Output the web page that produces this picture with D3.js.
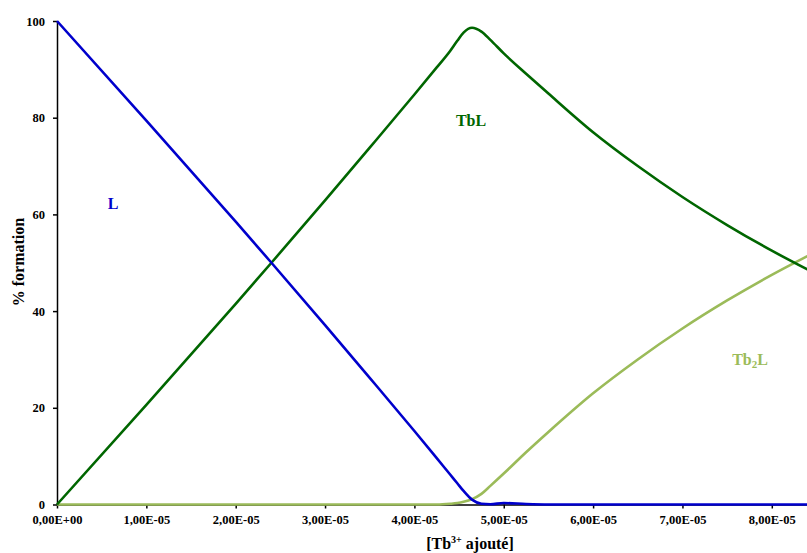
<!DOCTYPE html>
<html>
<head>
<meta charset="utf-8">
<script src="https://cdn.jsdelivr.net/npm/d3@7"></script>
<style>
  html, body { margin: 0; padding: 0; background: #fff; }
  svg { display: block; }
  text { font-family: "Liberation Serif", "Times New Roman", serif; font-weight: bold; }
</style>
</head>
<body>
<svg id="chart" width="807" height="553"></svg>
<script>
// ---- data (x in units of 1E-05 mol/L of Tb3+ added) ----
const concentration = [0, 1, 2, 2.4, 3, 3.5, 4, 4.25, 4.4, 4.48, 4.55, 4.645, 4.75, 4.85, 5.0, 5.25, 5.5, 6.0, 6.5, 7.0, 7.5, 8.0, 8.4];
const seriesL    = [100, 79.4, 58.5, 50, 37.1, 26.2, 15.2, 9.6, 6.2, 4.4, 2.8, 1.0, 0.15, 0.05, 0.3, 0.1, 0, 0, 0, 0, 0, 0, 0];
const seriesTbL  = [0, 20.6, 41.5, 50, 62.9, 73.8, 84.8, 90.4, 93.8, 95.9, 97.6, 98.6, 97.8, 96.1, 93.3, 89.1, 85, 77, 70, 63.6, 57.8, 52.5, 48.6];
const seriesTb2L = [0, 0, 0, 0, 0, 0, 0, 0, 0.15, 0.3, 0.55, 1.1, 2.2, 3.85, 6.4, 10.8, 15, 23, 30, 36.4, 42.2, 47.5, 51.4];
const xTicks = [0, 1, 2, 3, 4, 5, 6, 7, 8];
const xTickLabels = ["0,00E+00", "1,00E-05", "2,00E-05", "3,00E-05", "4,00E-05", "5,00E-05", "6,00E-05", "7,00E-05", "8,00E-05"];
const yTicks = [0, 20, 40, 60, 80, 100];
const seriesNames = ["L", "TbL", "Tb2L"];
const seriesColors = ["#0000CC", "#006600", "#9BBB59"];

const svg = d3.select("#chart");
const x = d3.scaleLinear().domain([0, 9.3]).range([57, 57 + 9.3 * 89.35]);
const y = d3.scaleLinear().domain([0, 100]).range([504.5, 21]);

// y axis
const yAxis = svg.append("g").attr("transform", "translate(57,0)")
  .call(d3.axisLeft(y).tickValues(yTicks).tickSize(4).tickPadding(8).tickSizeOuter(0));
yAxis.select(".domain").attr("stroke", "#000").attr("stroke-width", 1.5);
yAxis.selectAll(".tick line").attr("stroke", "#000").attr("stroke-width", 1.5);
yAxis.selectAll("text").attr("font-size", 12.5).attr("fill", "#000")
  .style("font-family", '"Liberation Serif", serif').style("font-weight", "bold");

// x axis
const xAxis = svg.append("g").attr("transform", "translate(0,504.5)")
  .call(d3.axisBottom(x).tickValues(xTicks).tickSize(4).tickSizeOuter(0)
    .tickFormat((d, i) => xTickLabels[i]));
xAxis.select(".domain").attr("stroke", "#000").attr("stroke-width", 1.5);
xAxis.selectAll(".tick line").attr("stroke", "#000").attr("stroke-width", 1.5);
xAxis.selectAll("text").attr("font-size", 12.5).attr("fill", "#000")
  .attr("y", 19.5).attr("dy", 0)
  .style("font-family", '"Liberation Serif", serif').style("font-weight", "bold");

// lines
const allSeries = [seriesL, seriesTbL, seriesTb2L];
const line = d3.line().x(d => x(d[0])).y(d => y(d[1])).curve(d3.curveMonotoneX);
const order = [2, 1, 0];
order.forEach(k => {
  svg.append("path")
    .datum(concentration.map((c, i) => [c, allSeries[k][i]]))
    .attr("fill", "none")
    .attr("stroke", seriesColors[k])
    .attr("stroke-width", 2.6)
    .attr("stroke-linejoin", "round")
    .attr("d", line);
});

// series labels
svg.append("text").attr("x", 113).attr("y", 209).attr("text-anchor", "middle")
  .attr("font-size", 16).attr("fill", seriesColors[0]).text("L");
svg.append("text").attr("x", 471).attr("y", 126).attr("text-anchor", "middle")
  .attr("font-size", 16).attr("fill", seriesColors[1]).text("TbL");
const t2 = svg.append("text").attr("x", 750).attr("y", 365).attr("text-anchor", "middle")
  .attr("font-size", 16).attr("fill", seriesColors[2]);
t2.append("tspan").text("Tb");
t2.append("tspan").attr("font-size", 11).attr("dy", 3).text("2");
t2.append("tspan").attr("dy", -3).text("L");

// axis titles
svg.append("text").attr("transform", "translate(24,262) rotate(-90)")
  .attr("text-anchor", "middle").attr("font-size", 16).attr("fill", "#000").text("% formation");
const xt = svg.append("text").attr("x", 470).attr("y", 549).attr("text-anchor", "middle")
  .attr("font-size", 16).attr("fill", "#000");
xt.append("tspan").text("[Tb");
xt.append("tspan").attr("font-size", 10).attr("dy", -6).text("3+");
xt.append("tspan").attr("dy", 6).text(" ajouté]");
</script>
</body>
</html>
